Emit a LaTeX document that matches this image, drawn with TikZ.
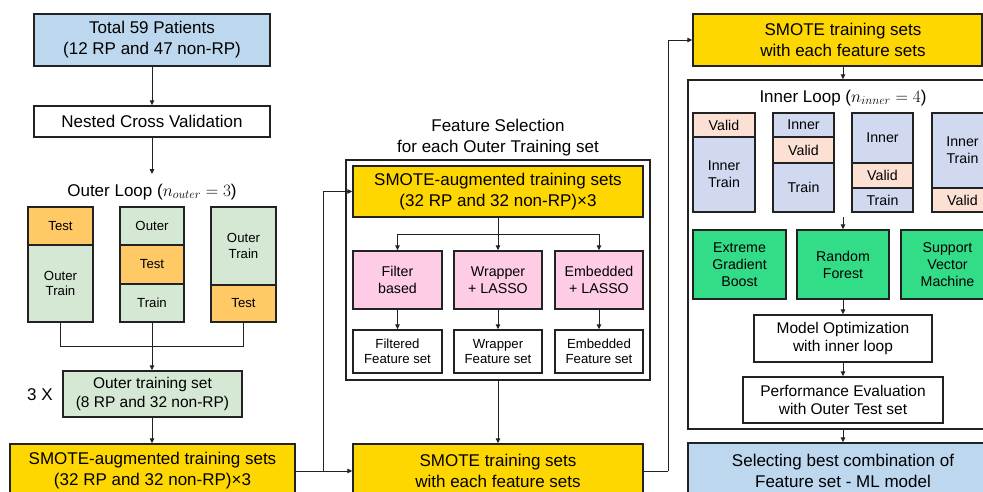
\documentclass[tikz,border=0pt]{standalone}
\usepackage{fontspec}
\setmainfont{Liberation Sans}
\usetikzlibrary{arrows.meta}
\definecolor{cblue}{HTML}{BDD7EE}
\definecolor{cgreenl}{HTML}{D5E8D4}
\definecolor{corange}{HTML}{FFC966}
\definecolor{cyellow}{HTML}{FFD700}
\definecolor{cpink}{HTML}{FFCCE6}
\definecolor{cinner}{HTML}{D0D9F0}
\definecolor{cvalid}{HTML}{FCE0D4}
\definecolor{cgreen}{HTML}{33DD88}
\definecolor{cline}{HTML}{222222}
\begin{document}
\begin{tikzpicture}[x=1pt,y=-1pt,
  bx/.style={draw=cline, line width=1.4pt, inner sep=0pt, align=center},
  frame/.style={draw=cline, line width=1.4pt, inner sep=0pt},
  cn/.style={draw=cline, line width=0.9pt},
  ar/.style={cn, -{Triangle[length=5pt,width=4.5pt]}},
  fbig/.style={font=\fontsize{17}{21}\selectfont},
  fmid/.style={font=\fontsize{15.5}{18.5}\selectfont},
  fsm/.style={font=\fontsize{14.2}{17}\selectfont},
  fxs/.style={font=\fontsize{13.2}{15.5}\selectfont},
]
\clip (0,0) rectangle (983,491);
\fill[white] (0,0) rectangle (983,491);

% ---------- left column ----------
\node[bx, fill=cblue, fbig, minimum width=236pt, minimum height=52pt] (total) at (152,40) {Total 59 Patients\\(12 RP and 47 non-RP)};
\node[bx, fill=white, fbig, minimum width=236pt, minimum height=31pt] (ncv) at (152,121.5) {Nested Cross Validation};
\node[fbig, inner sep=0pt] (olab) at (152,192) {Outer Loop ($n_{outer} = 3$)};
\coordinate (olabtop) at (152,174);
\draw[ar] (total) -- (ncv);
\draw[ar] (ncv) -- (olabtop);

\node[bx, fill=corange, fxs, minimum width=65pt, minimum height=38pt] (c1a) at (60.5,226) {Test};
\node[bx, fill=cgreenl, fxs, minimum width=65pt, minimum height=77pt] (c1b) at (60.5,283.5) {Outer\\Train};
\node[bx, fill=cgreenl, fxs, minimum width=64pt, minimum height=38pt] (c2a) at (152,226) {Outer};
\node[bx, fill=corange, fxs, minimum width=64pt, minimum height=39pt] (c2b) at (152,264.5) {Test};
\node[bx, fill=cgreenl, fxs, minimum width=64pt, minimum height=38pt] (c2c) at (152,303) {Train};
\node[bx, fill=cgreenl, fxs, minimum width=65pt, minimum height=78pt] (c3a) at (243.5,246) {Outer\\Train};
\node[bx, fill=corange, fxs, minimum width=65pt, minimum height=37pt] (c3b) at (243.5,303.5) {Test};

\node[bx, fill=cgreenl, fmid, minimum width=179pt, minimum height=46pt] (ots) at (152.5,394) {Outer training set\\(8 RP and 32 non-RP)};
\node[fbig] (three) at (40,395) {3 X};
\draw[cn] (c1b.south) -- ++(0,24) -| (c3b.south);
\draw[ar] (c2c.south) -- (c2c.south |- ots.north);

\node[bx, fill=cyellow, fbig, minimum width=285pt, minimum height=54pt] (smL) at (152.5,471) {SMOTE-augmented training sets\\(32 RP and 32 non-RP)×3};
\draw[ar] (ots.south -| c2c.south) -- (c2c.south |- smL.north);

% ---------- centre column ----------
\node[fbig, align=center, inner sep=0pt] (fshead) at (498,137.5) {Feature Selection\\for each Outer Training set};
\node[frame, minimum width=304pt, minimum height=220pt] (fsbox) at (498,270) {};
\node[bx, fill=cyellow, fbig, minimum width=290pt, minimum height=51pt] (smA) at (498,191.5) {SMOTE-augmented training sets\\(32 RP and 32 non-RP)×3};
\node[bx, fill=cpink, fsm, minimum width=89pt, minimum height=58pt] (filt) at (397.5,280) {Filter\\based};
\node[bx, fill=cpink, fsm, minimum width=88pt, minimum height=58pt] (wrap) at (498,280) {Wrapper\\+ LASSO};
\node[bx, fill=cpink, fsm, minimum width=88pt, minimum height=58pt] (emb) at (599,280) {Embedded\\+ LASSO};
\node[bx, fill=white, fxs, minimum width=89pt, minimum height=43pt] (filtfs) at (397.5,351.5) {Filtered\\Feature set};
\node[bx, fill=white, fxs, minimum width=88pt, minimum height=43pt] (wrapfs) at (498,351.5) {Wrapper\\Feature set};
\node[bx, fill=white, fxs, minimum width=88pt, minimum height=43pt] (embfs) at (599,351.5) {Embedded\\Feature set};
\coordinate (br) at (498,234);
\draw[cn] (smA.south) -- (br);
\draw[ar] (br) -| (filt.north);
\draw[ar] (br) -| (emb.north);
\draw[ar] (br) -- (wrap.north);
\draw[ar] (filt) -- (filtfs);
\draw[ar] (wrap) -- (wrapfs);
\draw[ar] (emb) -- (embfs);

\node[bx, fill=cyellow, fbig, minimum width=290pt, minimum height=54pt] (smB) at (498,471) {SMOTE training sets\\with each feature sets};
\draw[ar] (fsbox.south) -- (smB.north);

\coordinate (jL) at (323,471);
\draw[cn] (smL.east) -- (jL);
\draw[ar] (jL) |- (smA.west);
\draw[ar] (jL) -- (smB.west);

% ---------- right column ----------
\node[bx, fill=cyellow, minimum width=289pt, minimum height=52pt] (smC) at (837.5,40) {};
\node[fbig, align=center, inner sep=0pt] (smCt) at (843,40) {SMOTE training sets\\with each feature sets};
\coordinate (jR) at (668,471);
\draw[cn] (smB.east) -- (jR);
\draw[ar] (jR) |- (smC.west);

\node[frame, minimum width=310pt, minimum height=349pt] (inbox) at (843,254.5) {};
\draw[ar] (smC.south -| smCt.center) -- (smCt.center |- inbox.north);
\node[fbig, inner sep=0pt] (inlab) at (843,98) {Inner Loop ($n_{inner} = 4$)};

\node[bx, fill=cvalid, fsm, minimum width=62pt, minimum height=24pt] (i1a) at (724,125) {Valid};
\node[bx, fill=cinner, fsm, minimum width=62pt, minimum height=75pt] (i1b) at (724,174.5) {Inner\\Train};
\node[bx, fill=cinner, fsm, minimum width=61pt, minimum height=24pt] (i2a) at (803.5,125) {Inner};
\node[bx, fill=cvalid, fsm, minimum width=61pt, minimum height=26pt] (i2b) at (803.5,150) {Valid};
\node[bx, fill=cinner, fsm, minimum width=61pt, minimum height=49pt] (i2c) at (803.5,187.5) {Train};
\node[bx, fill=cinner, fsm, minimum width=61pt, minimum height=50pt] (i3a) at (882.5,138) {Inner};
\node[bx, fill=cvalid, fsm, minimum width=61pt, minimum height=25pt] (i3b) at (882.5,175.5) {Valid};
\node[bx, fill=cinner, fsm, minimum width=61pt, minimum height=24pt] (i3c) at (882.5,200) {Train};
\node[bx, fill=cinner, fsm, minimum width=61pt, minimum height=75pt] (i4a) at (962.5,150.5) {Inner\\Train};
\node[bx, fill=cvalid, fsm, minimum width=61pt, minimum height=24pt] (i4b) at (962.5,200) {Valid};

\node[bx, fill=cgreen, fsm, minimum width=93pt, minimum height=69pt] (xgb) at (739.5,264.5) {Extreme\\Gradient\\Boost};
\node[bx, fill=cgreen, fsm, minimum width=92pt, minimum height=69pt] (rf) at (843,264.5) {Random\\Forest};
\node[bx, fill=cgreen, fsm, minimum width=93pt, minimum height=69pt] (svm) at (947.5,264.5) {Support\\Vector\\Machine};
\coordinate (ia) at (843,217);
\draw[ar] (ia) -- (rf.north);

\node[bx, fill=white, fmid, minimum width=178pt, minimum height=47pt] (mo) at (843,338.5) {Model Optimization\\with inner loop};
\node[bx, fill=white, fmid, minimum width=200pt, minimum height=46pt] (pe) at (843,400) {Performance Evaluation\\with Outer Test set};
\draw[ar] (rf) -- (mo);
\draw[ar] (mo) -- (pe);

\node[bx, fill=cblue, fbig, minimum width=310pt, minimum height=56pt] (sel) at (843,471) {Selecting best combination of\\Feature set - ML model};
\draw[ar] (inbox.south) -- (sel.north);
\end{tikzpicture}
\end{document}
